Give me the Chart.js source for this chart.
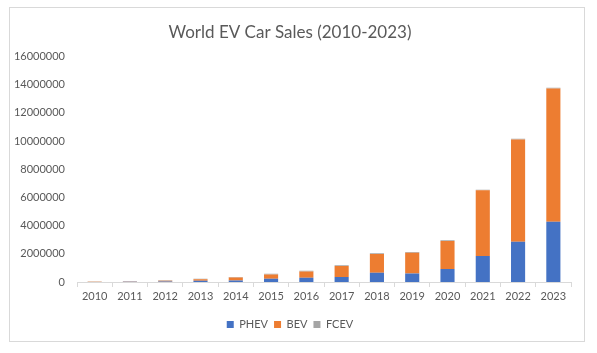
<!DOCTYPE html>
<html>
<head>
<meta charset="utf-8">
<script src="https://cdn.jsdelivr.net/npm/chart.js@4"></script>
<style>
  html, body { margin: 0; padding: 0; background: #fff; }
  #wrap { position: relative; width: 597px; height: 353px; }
  #frame { position: absolute; left: 9px; top: 7px; width: 576px; height: 335px;
           border: 1px solid #d9d9d9; box-sizing: border-box; pointer-events: none; }
  canvas { position: absolute; left: 0; top: 0; }
</style>
</head>
<body>
<div id="wrap">
  <canvas id="myChart" width="597" height="353"></canvas>
  <div id="frame"></div>
</div>
<script>
// World EV car sales by powertrain
const years = ["2010", "2011", "2012", "2013", "2014", "2015", "2016",
               "2017", "2018", "2019", "2020", "2021", "2022", "2023"];
const phev = [2000, 10000, 30000, 80000, 100000, 230000, 300000,
              360000, 660000, 600000, 930000, 1840000, 2850000, 4270000];
const bev = [10000, 20000, 60000, 110000, 220000, 310000, 450000,
             780000, 1330000, 1470000, 1980000, 4660000, 7260000, 9450000];
const fcev = [30000, 30000, 40000, 40000, 40000, 50000, 50000,
              50000, 50000, 50000, 50000, 50000, 50000, 50000];
const yTicks = [0, 2000000, 4000000, 6000000, 8000000, 10000000, 12000000, 14000000, 16000000];

const textColor = "#595959";
const fontFamily = "Lato, 'Open Sans', sans-serif";

chartIt();

function chartIt() {
  const ctx = document.getElementById("myChart");

  new Chart(ctx, {
    type: "bar",
    data: {
      labels: years,
      datasets: [
        { label: "PHEV", data: phev, backgroundColor: "#4472C4" },
        { label: "BEV", data: bev, backgroundColor: "#ED7D31" },
        { label: "FCEV", data: fcev, backgroundColor: "#A5A5A5" },
      ],
    },
    options: {
      responsive: false,
      animation: false,
      layout: { padding: { left: 9, right: 26, top: 10, bottom: 13 } },
      datasets: { bar: { categoryPercentage: 1, barPercentage: 0.4 } },
      plugins: {
        title: {
          display: true,
          text: "World EV Car Sales (2010-2023)",
          color: textColor,
          font: { family: fontFamily, size: 17, weight: "normal" },
          padding: { top: 12, bottom: 14 },
        },
        legend: {
          position: "bottom",
          labels: {
            color: textColor,
            font: { family: fontFamily, size: 11 },
            boxWidth: 7,
            boxHeight: 7,
            padding: 6,
          },
        },
        tooltip: { enabled: false },
      },
      scales: {
        x: {
          stacked: true,
          grid: { display: true, drawOnChartArea: false, drawTicks: true, tickLength: 5, color: "#d9d9d9" },
          border: { display: true, color: "#d9d9d9" },
          ticks: { color: textColor, font: { family: fontFamily, size: 11 }, padding: 3, maxRotation: 0 },
          afterFit: (scale) => { scale.height = 31; },
        },
        y: {
          stacked: true,
          min: 0,
          max: 16000000,
          grid: { display: false, drawTicks: false },
          border: { display: false },
          afterBuildTicks: (scale) => { scale.ticks = yTicks.map((v) => ({ value: v })); },
          ticks: {
            color: textColor,
            font: { family: fontFamily, size: 11 },
            padding: 12,
            callback: function (value) {
              return String(value);
            },
          },
          afterFit: (scale) => { scale.width = 68; },
        },
      },
    },
  });
}
</script>
</body>
</html>
